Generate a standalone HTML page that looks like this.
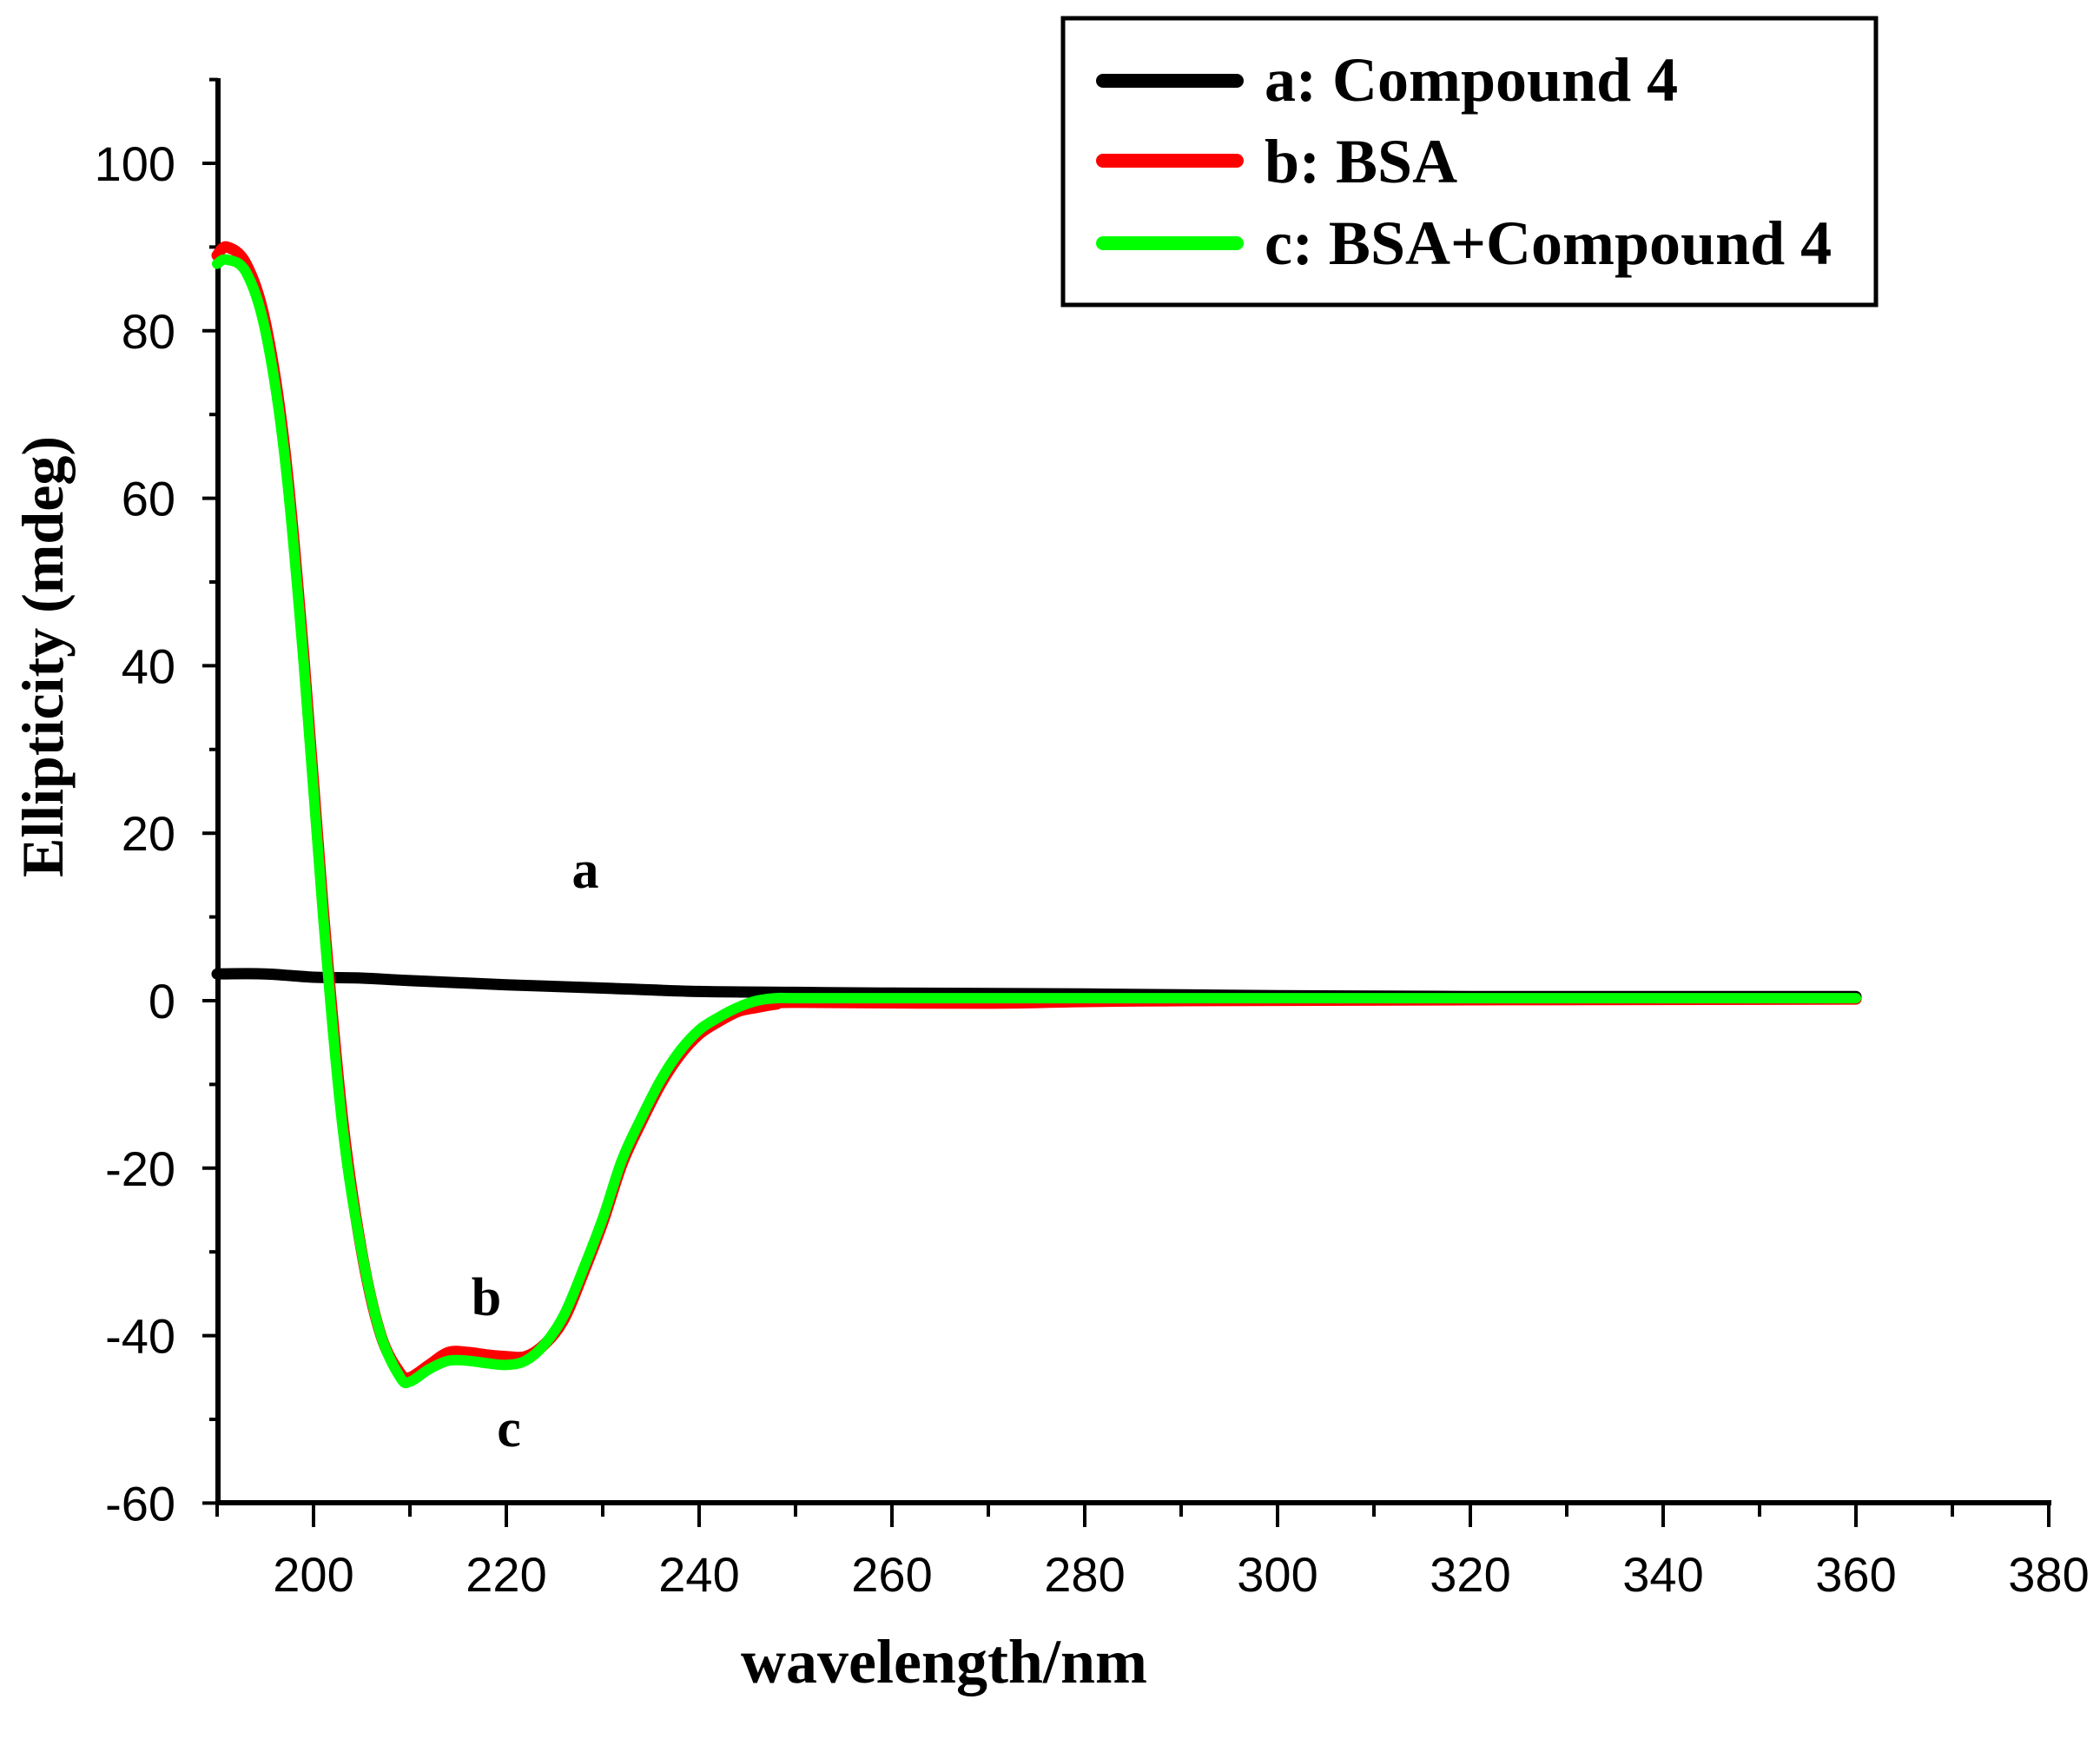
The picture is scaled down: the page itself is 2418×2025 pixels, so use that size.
<!DOCTYPE html>
<html><head><meta charset="utf-8"><style>
html,body{margin:0;padding:0;background:#fff;}
svg{display:block;}
.tl{font-family:"Liberation Sans",sans-serif;font-size:56px;fill:#000;}
.bt{font-family:"Liberation Serif",serif;font-weight:bold;fill:#000;}
</style></head><body>
<svg id="chart" width="2418" height="2025" viewBox="0 0 2418 2025" xmlns="http://www.w3.org/2000/svg">
<g id="axes"></g>
<g id="series"></g>
<text class="bt" x="674" y="1022" font-size="62" text-anchor="middle">a</text>
<text class="bt" x="560" y="1514" font-size="62" text-anchor="middle">b</text>
<text class="bt" x="586" y="1665" font-size="62" text-anchor="middle">c</text>
<text class="bt" x="1087" y="1937" font-size="72" text-anchor="middle">wavelength/nm</text>
<text class="bt" transform="translate(72,756) rotate(-90)" font-size="68" text-anchor="middle">Ellipticity (mdeg)</text>
<g>
<rect x="1224" y="21" width="936" height="330" fill="#fff" stroke="#000" stroke-width="5"/>
<g><line x1="1270" y1="93" x2="1424" y2="93" stroke="#000" stroke-width="16" stroke-linecap="round"/><text class="bt" x="1456" y="116" font-size="72">a: Compound 4</text></g>
<g><line x1="1270" y1="185" x2="1424" y2="185" stroke="#ff0000" stroke-width="16" stroke-linecap="round"/><text class="bt" x="1456" y="210" font-size="72">b: BSA</text></g>
<g><line x1="1270" y1="280" x2="1424" y2="280" stroke="#00ff00" stroke-width="16" stroke-linecap="round"/><text class="bt" x="1456" y="304" font-size="72">c: BSA+Compound 4</text></g>
</g>
</svg>
<script>
const xTicks=[200,220,240,260,280,300,320,340,360,380];
const yTicks=[-60,-40,-20,0,20,40,60,80,100];
const wlA=[190,195,200,205,210,220,230,240,250,260,280,300,320,340,360];
const valA=[3.2,3.2,2.8,2.7,2.4,1.9,1.5,1.1,1.0,0.9,0.8,0.6,0.5,0.5,0.5];
const wlB=[190,191,193,195,197,199,201,203,205,207,209,210,212,214,216,218,220,222,224,226,228,230,232,234,236,238,240,242,244,246,248,250,270,290,360];
const valB=[89,90,88,81,66,41,11,-14,-30,-40,-44.5,-45,-43.5,-42,-42,-42.3,-42.5,-42.5,-41,-38,-32.5,-26.5,-19.5,-14.5,-10,-6.5,-4,-2.5,-1.3,-0.8,-0.4,-0.2,-0.3,0,0.2];
const wlC=[190,191,193,195,197,199,201,203,205,207,209,210,212,214,216,218,220,222,224,226,228,230,232,234,236,238,240,242,244,246,248,250,260,280,300,360];
const valC=[88,88.5,87,80,65,40,10,-15,-30,-40,-45,-45.5,-44,-43,-43,-43.3,-43.5,-43,-41,-37.5,-32,-26,-19,-14,-9.5,-6,-3.5,-2,-0.8,0,0.3,0.3,0.3,0.3,0.3,0.3];
const NS='http://www.w3.org/2000/svg';
function X(w){return 250+(w-190)*(2359-250)/190;}
function Y(v){return 1152-v*9.64;}
function mk(tag,attrs,parent){const e=document.createElementNS(NS,tag);for(const k in attrs)e.setAttribute(k,attrs[k]);parent.appendChild(e);return e;}
const ax=document.getElementById('axes');
let l=mk('line',{x1:250,y1:1730,x2:2362,y2:1730,stroke:'#000','stroke-width':6},ax);


l=mk('line',{x1:251,y1:90,x2:251,y2:1733,stroke:'#000','stroke-width':6},ax);


for(let w=190;w<=380;w+=10){
  const major=xTicks.includes(w);
  l=mk('line',{x1:X(w),y1:1730,x2:X(w),y2:1730+(major?28:16),stroke:'#000','stroke-width':4},ax);
  
  
}
xTicks.forEach(w=>{const t=mk('text',{x:X(w),y:1832,'text-anchor':'middle',class:'tl'},ax);t.textContent=w;
  
  });
for(let v=-60;v<=110;v+=10){
  const major=yTicks.includes(v);
  l=mk('line',{x1:251-(major?18:10),y1:Y(v),x2:251,y2:Y(v),stroke:'#000','stroke-width':4},ax);
  
  
}
yTicks.forEach(v=>{const t=mk('text',{x:202,y:Y(v)+20,'text-anchor':'end',class:'tl'},ax);t.textContent=v;
  
  });
const sg=document.getElementById('series');
function draw(ws,vs,color,w,name){
  const P=ws.map((x,i)=>[X(x),Y(vs[i])]);
  let d='M'+P[0][0].toFixed(1)+' '+P[0][1].toFixed(1);
  for(let i=0;i<P.length-1;i++){
    const p0=P[Math.max(0,i-1)],p1=P[i],p2=P[i+1],p3=P[Math.min(P.length-1,i+2)];
    const c1=[p1[0]+(p2[0]-p0[0])/6,p1[1]+(p2[1]-p0[1])/6];
    const c2=[p2[0]-(p3[0]-p1[0])/6,p2[1]-(p3[1]-p1[1])/6];
    d+=' C'+c1[0].toFixed(1)+' '+c1[1].toFixed(1)+' '+c2[0].toFixed(1)+' '+c2[1].toFixed(1)+' '+p2[0].toFixed(1)+' '+p2[1].toFixed(1);
  }
  const p=mk('path',{d:d,fill:'none',stroke:color,'stroke-width':w,'stroke-linejoin':'round','stroke-linecap':'round'},sg);
  
  
}
draw(wlA,valA,'#000',13,'series-a-compound4');
draw(wlB,valB,'#ff0000',13,'series-b-bsa');
draw(wlC,valC,'#00ff00',12,'series-c-bsa-compound4');
</script>
</body></html>
